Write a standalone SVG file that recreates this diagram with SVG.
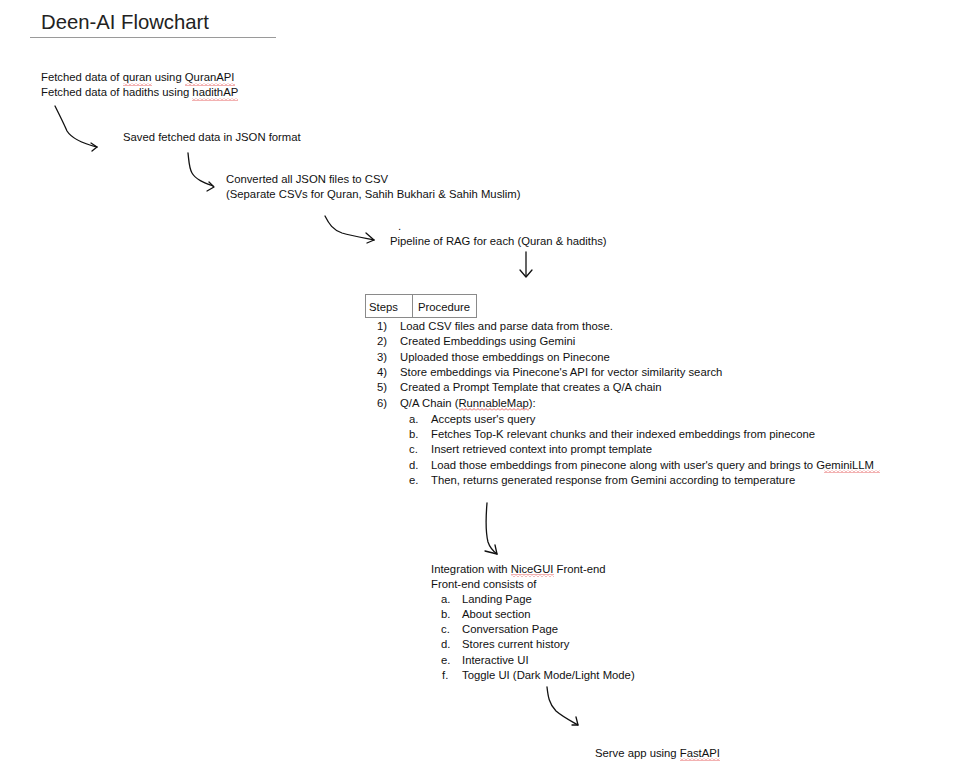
<svg xmlns="http://www.w3.org/2000/svg" width="975" height="771" viewBox="0 0 975 771">
<style>
text{font-family:"Liberation Sans",Arial,sans-serif;font-size:11.3px;fill:#111}
.title{font-size:20.3px;fill:#222}
.c{fill:none;stroke:#111;stroke-width:1.3;stroke-linecap:round;stroke-linejoin:round}
.sq{fill:url(#wave)}
.tb{fill:none;stroke:#8a8a8a;stroke-width:1}
</style>
<defs>
<pattern id="wave" width="4" height="3" patternUnits="userSpaceOnUse">
<path d="M0,2.5 L2,0.5 L4,2.5" fill="none" stroke="#e03b3b" stroke-width="0.8"/>
</pattern>
</defs>
<rect width="975" height="771" fill="#fff"/>
<g id="title">
<text class="title" x="41" y="29">Deen-AI Flowchart</text>
<line x1="30" y1="37.5" x2="276" y2="37.5" stroke="#9a9a9a" stroke-width="1"/>
</g>
<g id="fetch">
<text x="41" y="81">Fetched data of quran using QuranAPI</text>
<text x="41" y="96">Fetched data of hadiths using hadithAP</text>
<rect class="sq" x="123" y="83" width="29" height="3"/>
<rect class="sq" x="185" y="83" width="50" height="3"/>
<rect class="sq" x="192" y="98" width="46" height="3"/>
</g>
<g id="save">
<text x="123" y="141">Saved fetched data in JSON format</text>
</g>
<g id="convert">
<text x="226" y="183">Converted all JSON files to CSV</text>
<text x="226" y="198">(Separate CSVs for Quran, Sahih Bukhari &amp; Sahih Muslim)</text>
</g>
<g id="pipeline">
<text x="398" y="230">.</text>
<text x="390" y="245">Pipeline of RAG for each (Quran &amp; hadiths)</text>
</g>
<g id="steps">
<rect class="tb" x="365.5" y="294.5" width="111" height="23"/>
<line class="tb" x1="412.5" y1="294.5" x2="412.5" y2="317.5"/>
<text x="369" y="311">Steps</text>
<text x="418" y="311">Procedure</text>
<text x="377" y="330">1)</text><text x="400" y="330">Load CSV files and parse data from those.</text>
<text x="377" y="345">2)</text><text x="400" y="345">Created Embeddings using Gemini</text>
<text x="377" y="361">3)</text><text x="400" y="361">Uploaded those embeddings on Pinecone</text>
<text x="377" y="376">4)</text><text x="400" y="376">Store embeddings via Pinecone's API for vector similarity search</text>
<text x="377" y="391">5)</text><text x="400" y="391">Created a Prompt Template that creates a Q/A chain</text>
<text x="377" y="407">6)</text><text x="400" y="407">Q/A Chain (RunnableMap):</text>
<text x="409" y="423">a.</text><text x="431" y="423">Accepts user's query</text>
<text x="409" y="438">b.</text><text x="431" y="438">Fetches Top-K relevant chunks and their indexed embeddings from pinecone</text>
<text x="409" y="453">c.</text><text x="431" y="453">Insert retrieved context into prompt template</text>
<text x="409" y="469">d.</text><text x="431" y="469">Load those embeddings from pinecone along with user's query and brings to GeminiLLM</text>
<text x="409" y="484">e.</text><text x="431" y="484">Then, returns generated response from Gemini according to temperature</text>
<rect class="sq" x="459" y="408" width="70" height="3"/>
<rect class="sq" x="824" y="470" width="56" height="3"/>
</g>
<g id="frontend">
<text x="431" y="573">Integration with NiceGUI Front-end</text>
<text x="431" y="588">Front-end consists of</text>
<text x="441" y="603">a.</text><text x="462" y="603">Landing Page</text>
<text x="441" y="618">b.</text><text x="462" y="618">About section</text>
<text x="441" y="633">c.</text><text x="462" y="633">Conversation Page</text>
<text x="441" y="648">d.</text><text x="462" y="648">Stores current history</text>
<text x="441" y="664">e.</text><text x="462" y="664">Interactive UI</text>
<text x="442" y="679">f.</text><text x="462" y="679">Toggle UI (Dark Mode/Light Mode)</text>
<rect class="sq" x="511" y="574" width="43" height="3"/>
</g>
<g id="serve">
<text x="595" y="757">Serve app using FastAPI</text>
<rect class="sq" x="680" y="758" width="40" height="3"/>
</g>
<g id="connectors">
<path class="c" d="M55,106 C60,116 64,124 67,131 C72,139 85,144 97,147"/>
<path class="c" d="M91,143 L97,147 L92,151"/>
<path class="c" d="M188,153 C189,161 189,168 192,173 C196,180 205,183 213,186"/>
<path class="c" d="M209,182 L214,187 L207,191"/>
<path class="c" d="M325,216 C329,224 333,230 342,233 C352,236 364,238 374,240"/>
<path class="c" d="M366,233 L374,240 L367,243"/>
<path class="c" d="M526,252 L526,276"/>
<path class="c" d="M520,270 L526,277 L532,270"/>
<path class="c" d="M487,503 C486,515 485,530 488,542 C490,548 493,551 497,554"/>
<path class="c" d="M485,551 L497,554 L495,545"/>
<path class="c" d="M547,687 C548,696 549,704 556,711 C563,717 571,721 578,725"/>
<path class="c" d="M576,717 L578,725 L572,725"/>
</g>
</svg>
